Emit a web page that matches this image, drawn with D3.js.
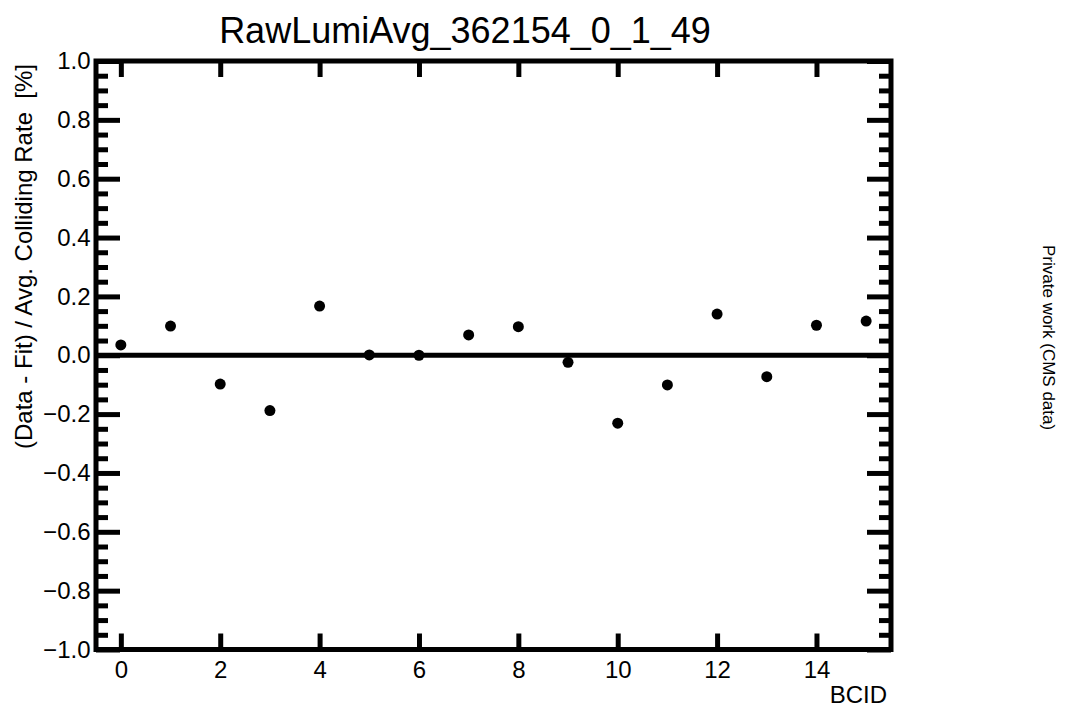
<!DOCTYPE html>
<html>
<head>
<meta charset="utf-8">
<script src="https://cdn.jsdelivr.net/npm/d3@7"></script>
<style>
  body { margin: 0; background: #fff; }
  text { font-family: "Liberation Sans", Arial, Helvetica, sans-serif; fill: #000; white-space: pre; }
</style>
</head>
<body>
<div id="chart"></div>
<script>
// Data
const bcid = [0, 1, 2, 3, 4, 5, 6, 7, 8, 9, 10, 11, 12, 13, 14, 15];
const residual = [0.035, 0.099, -0.098, -0.188, 0.167, 0.001, 0.0, 0.069,
                  0.097, -0.024, -0.231, -0.101, 0.140, -0.073, 0.102, 0.116];
const xTicks = [0, 2, 4, 6, 8, 10, 12, 14];
const yMajor = [-1.0, -0.8, -0.6, -0.4, -0.2, 0.0, 0.2, 0.4, 0.6, 0.8, 1.0];
const yMinor = d3.range(-20, 21).map(i => i * 0.05).filter(v => Math.abs(Math.round(v * 100) % 20) !== 0);

const W = 1070, H = 709;
const frame = {left: 96, right: 891, top: 61, bottom: 649.5};
const sw = 5;

const svg = d3.select("#chart").append("svg")
  .attr("width", W).attr("height", H);
svg.append("rect").attr("width", W).attr("height", H).attr("fill", "#fff");

const x = d3.scaleLinear().domain([-0.5, 15.5]).range([frame.left, frame.right]);
const y = d3.scaleLinear().domain([-1, 1]).range([frame.bottom, frame.top]);

// style helper for axis groups
function styleAxis(g, fontSize) {
  g.select(".domain").remove();
  g.selectAll(".tick line").attr("stroke", "#000").attr("stroke-width", sw);
  g.selectAll(".tick text").style("font-size", fontSize + "px").attr("fill", "#000");
}

// left axis: major + minor ticks
svg.append("g")
  .attr("transform", `translate(${frame.left},0)`)
  .call(d3.axisLeft(y).tickValues(yMajor).tickSizeInner(-24).tickSizeOuter(0)
        .tickPadding(5.5).tickFormat(d3.format(".1f")))
  .call(g => styleAxis(g, 24));
svg.append("g")
  .attr("transform", `translate(${frame.left},0)`)
  .call(d3.axisLeft(y).tickValues(yMinor).tickSizeInner(-12).tickSizeOuter(0).tickFormat(""))
  .call(g => styleAxis(g, 24));

// right axis: mirrored ticks
svg.append("g")
  .attr("transform", `translate(${frame.right},0)`)
  .call(d3.axisRight(y).tickValues(yMajor).tickSizeInner(-24).tickSizeOuter(0).tickFormat(""))
  .call(g => styleAxis(g, 24));
svg.append("g")
  .attr("transform", `translate(${frame.right},0)`)
  .call(d3.axisRight(y).tickValues(yMinor).tickSizeInner(-12).tickSizeOuter(0).tickFormat(""))
  .call(g => styleAxis(g, 24));

// bottom axis with labels
svg.append("g")
  .attr("transform", `translate(0,${frame.bottom})`)
  .call(d3.axisBottom(x).tickValues(xTicks).tickSizeInner(-16).tickSizeOuter(0).tickPadding(11))
  .call(g => styleAxis(g, 24));

// top axis, ticks only
svg.append("g")
  .attr("transform", `translate(0,${frame.top})`)
  .call(d3.axisTop(x).tickValues(xTicks).tickSizeInner(-16).tickSizeOuter(0).tickFormat(""))
  .call(g => styleAxis(g, 24));

// frame
svg.append("rect")
  .attr("x", frame.left).attr("y", frame.top)
  .attr("width", frame.right - frame.left).attr("height", frame.bottom - frame.top)
  .attr("fill", "none").attr("stroke", "#000").attr("stroke-width", sw);

// zero line
svg.append("line")
  .attr("x1", frame.left).attr("x2", frame.right)
  .attr("y1", y(0)).attr("y2", y(0))
  .attr("stroke", "#000").attr("stroke-width", sw);

// points
svg.selectAll("circle.pt")
  .data(bcid)
  .enter()
  .append("circle")
    .attr("class", "pt")
    .attr("cx", d => x(d))
    .attr("cy", (d, i) => y(residual[i]))
    .attr("r", 5.5)
    .attr("fill", "#000");

// title
svg.append("text")
  .attr("x", 465).attr("y", 43)
  .attr("text-anchor", "middle")
  .style("font-size", "36px")
  .text("RawLumiAvg_362154_0_1_49");

// x axis title
svg.append("text")
  .attr("x", 887).attr("y", 703)
  .attr("text-anchor", "end")
  .style("font-size", "24px")
  .text("BCID");

// y axis title
svg.append("text")
  .attr("transform", `translate(32,${frame.top + 3}) rotate(-90)`)
  .attr("text-anchor", "end")
  .style("font-size", "24px")
  .text("(Data - Fit) / Avg. Colliding Rate  [%]");

// side note
svg.append("text")
  .attr("transform", `translate(1043,245) rotate(90)`)
  .attr("text-anchor", "start")
  .style("font-size", "17px")
  .text("Private work (CMS data)");
</script>
</body>
</html>
